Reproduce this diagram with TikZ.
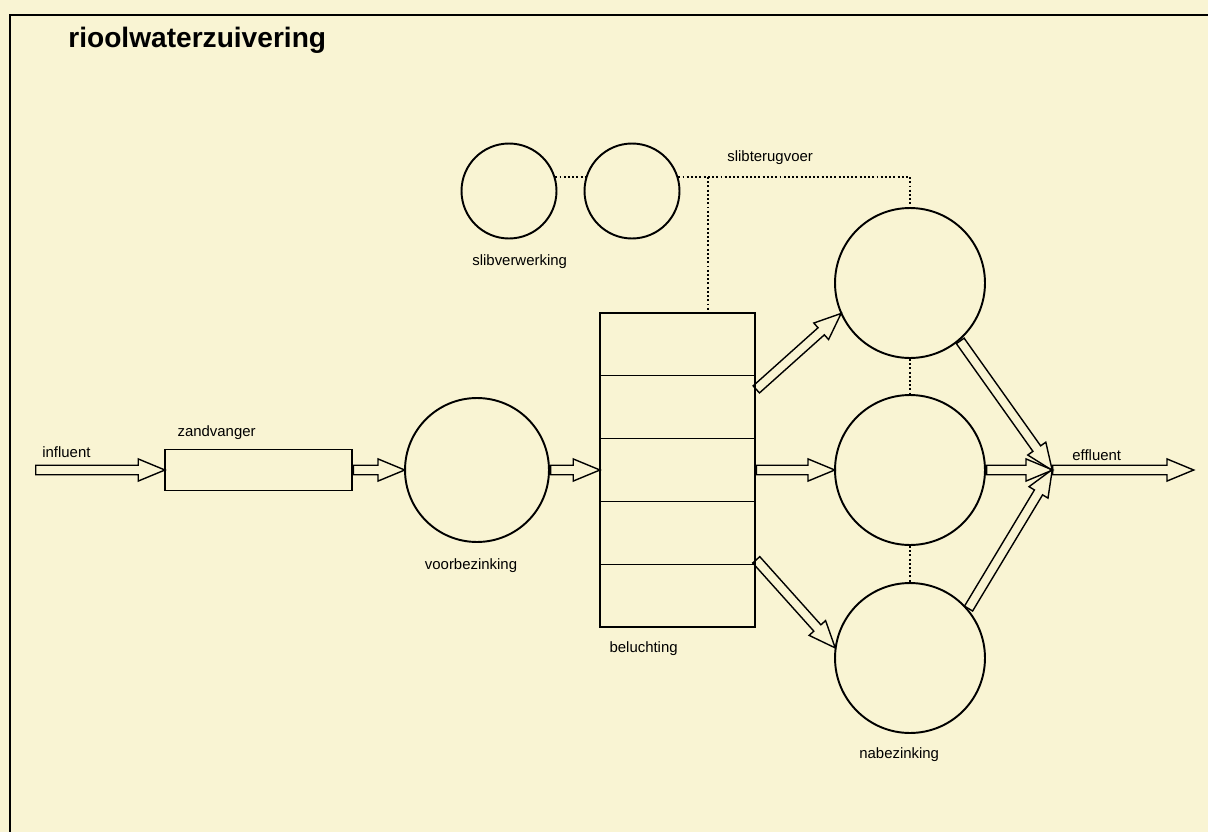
\documentclass[tikz,border=0pt]{standalone}
\usepackage{fontspec}
\setmainfont{Liberation Sans}
\usetikzlibrary{shapes.arrows, positioning, calc}
\definecolor{papier}{RGB}{249,244,211}

% holle stroompijl van knoop naar knoop
\newcommand{\stroom}[2]{%
  \path let \p1=($(#2)-(#1)$), \n1={veclen(\x1,\y1)}, \n2={atan2(\y1,\x1)} in
    node[pijl, minimum height=\n1, rotate=\n2, anchor=tail] at (#1) {};}

\begin{document}
\begin{tikzpicture}[x=0.02cm, y=-0.02cm,
  tank/.style={circle, draw, line width=1.1pt, inner sep=0pt},
  bak/.style={rectangle, draw, line width=0.9pt, inner sep=0pt},
  lbl/.style={font=\fontsize{8.5}{10}\selectfont, inner sep=0pt},
  slibleiding/.style={line width=1.2pt, dash pattern=on 1.1pt off 1.3pt},
  pijl/.style={single arrow, draw, line width=0.8pt, inner xsep=0pt, inner ysep=2.3pt,
               single arrow head extend=3.6pt, single arrow tip angle=45}]
  \fill[papier] (0,0) rectangle (1208,832);
  \useasboundingbox (0,0) rectangle (1208,832);
  \draw[line width=1.7pt] (10,832) -- (10,15) -- (1208,15);
  \node[anchor=base west, inner sep=0pt, font=\bfseries\fontsize{16}{19}\selectfont]
    (titel) at (68,47) {rioolwaterzuivering};

  % installaties
  \node[bak, minimum width=3.74cm, minimum height=0.82cm] (zand) at (258.5,470) {};
  \node[tank, minimum size=2.88cm] (voor) at (477,470) {};
  \node[bak, minimum width=3.1cm, minimum height=6.28cm] (bel) at (677.5,470) {};
  \foreach \i in {1,...,4}
    \draw[line width=0.9pt] ($(bel.north west)!\i/5!(bel.south west)$)
      -- ($(bel.north east)!\i/5!(bel.south east)$);
  \node[tank, minimum size=3cm] (nab1) at (910,283) {};
  \node[tank, minimum size=3cm] (nab2) at (910,470) {};
  \node[tank, minimum size=3cm] (nab3) at (910,658) {};
  \node[tank, minimum size=1.9cm] (slib1) at (509,191) {};
  \node[tank, minimum size=1.9cm] (slib2) at (632,191) {};

  \coordinate (in) at (35,470);
  \coordinate (junc) at (1052,470);
  \coordinate (out) at (1193,470);
  \coordinate (tap) at (708,177);
  \coordinate (b1) at ($(bel.north east)!0.246!(bel.south east)$);
  \coordinate (b4) at ($(bel.north east)!0.783!(bel.south east)$);

  % slibleidingen
  \draw[slibleiding] (slib1.17) -- (slib2.163);
  \draw[slibleiding] (slib2.17) -| (nab1.north);
  \draw[slibleiding] (tap) -- (tap |- bel.north);
  \draw[slibleiding] (nab1.south) -- (nab2.north);
  \draw[slibleiding] (nab2.south) -- (nab3.north);

  % waterstroom
  \stroom{in}{zand.west}
  \stroom{zand.east}{voor.west}
  \stroom{voor.east}{bel.west}
  \stroom{b1}{nab1.204}
  \stroom{bel.east}{nab2.west}
  \stroom{b4}{nab3.172}
  \stroom{nab1.311}{junc}
  \stroom{nab2.east}{junc}
  \stroom{nab3.40}{junc}
  \stroom{junc}{out}

  % namen
  \node[lbl, anchor=base west] (influentlbl) at ($(in)+(7,-13)$) {influent};
  \node[lbl, anchor=base west] (zandlbl) at ($(zand.north west)+(13,-12)$) {zandvanger};
  \node[lbl, anchor=base] (voorlbl) at ($(voor.south)+(-6,27)$) {voorbezinking};
  \node[lbl, anchor=base west] (bellbl) at ($(bel.south west)+(10,25)$) {beluchting};
  \node[lbl, anchor=base west] (nablbl) at ($(nab3.south)+(-51,25)$) {nabezinking};
  \node[lbl, anchor=base west] (sliblbl) at ($(slib1.south)+(-37,26)$) {slibverwerking};
  \node[lbl, anchor=base west] (retourlbl) at ($(tap)+(19,-16)$) {slibterugvoer};
  \node[lbl, anchor=base west] (efflbl) at ($(junc)+(20,-10)$) {effluent};
\end{tikzpicture}
\end{document}
